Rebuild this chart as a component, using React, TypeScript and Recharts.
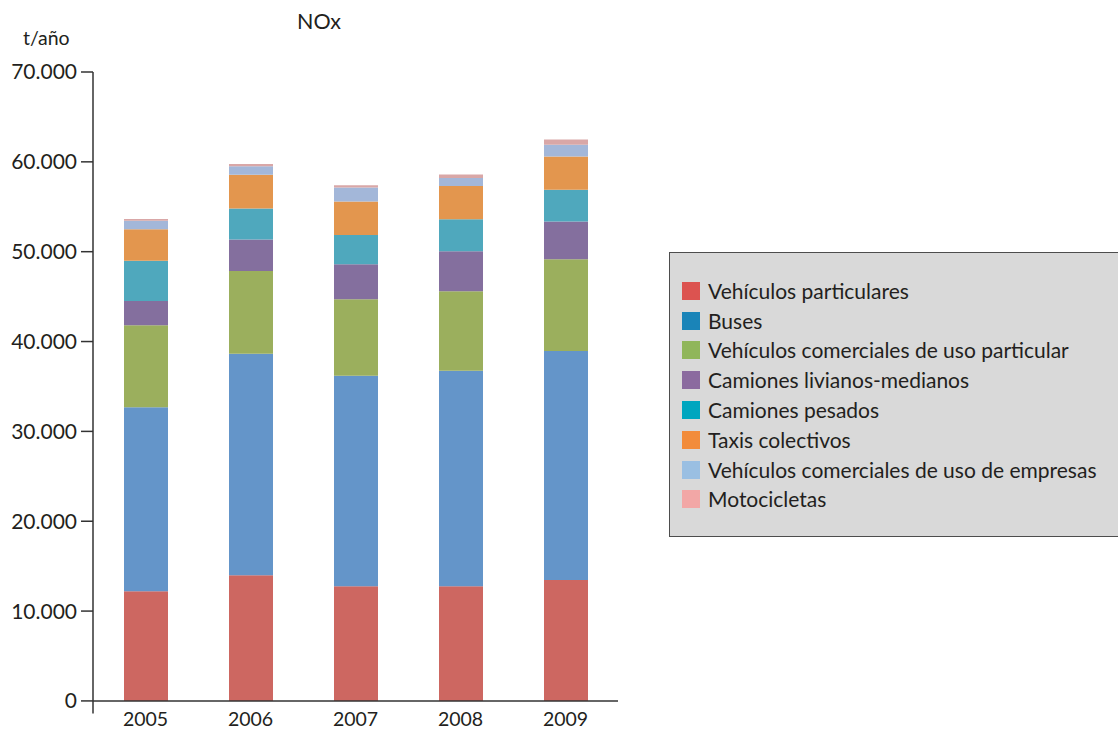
import React from 'react';
import { BarChart, Bar, XAxis, YAxis, ReferenceLine } from 'recharts';

// NOx emissions by vehicle type, t/año
const years = ['2005', '2006', '2007', '2008', '2009'];
const particulares = [12200, 14000, 12750, 12750, 13450];
const buses = [20500, 24650, 23450, 24000, 25500];
const comercialesParticular = [9100, 9200, 8500, 8850, 10200];
const livianosMedianos = [2700, 3500, 3900, 4450, 4200];
const pesados = [4500, 3450, 3250, 3550, 3550];
const taxis = [3500, 3750, 3750, 3700, 3700];
const comercialesEmpresas = [950, 950, 1550, 900, 1300];
const motocicletas = [200, 250, 250, 400, 600];
const yTicks = [0, 10000, 20000, 30000, 40000, 50000, 60000, 70000];

const series = [
  { key: 'particulares', name: 'Vehículos particulares', values: particulares, fill: '#cd6761', swatch: '#dc5350' },
  { key: 'buses', name: 'Buses', values: buses, fill: '#6495c9', swatch: '#1a84b8' },
  { key: 'comercialesParticular', name: 'Vehículos comerciales de uso particular', values: comercialesParticular, fill: '#9baf5d', swatch: '#90b65a' },
  { key: 'livianosMedianos', name: 'Camiones livianos-medianos', values: livianosMedianos, fill: '#846f9e', swatch: '#8b6b9f' },
  { key: 'pesados', name: 'Camiones pesados', values: pesados, fill: '#4fa8bd', swatch: '#00a6bf' },
  { key: 'taxis', name: 'Taxis colectivos', values: taxis, fill: '#e3964e', swatch: '#f28c3b' },
  { key: 'comercialesEmpresas', name: 'Vehículos comerciales de uso de empresas', values: comercialesEmpresas, fill: '#a3b7d9', swatch: '#9abfe2' },
  { key: 'motocicletas', name: 'Motocicletas', values: motocicletas, fill: '#d9a7a7', swatch: '#f2a7a6' },
];

const data = years.map((year, i) => {
  const row: Record<string, string | number> = { year };
  series.forEach((s) => {
    row[s.key] = s.values[i];
  });
  return row;
});

const FONT = 'Lato, "Open Sans", sans-serif';
const INK = '#231f20';

const formatThousands = (v: number) => v.toLocaleString('de-DE');

// Year label sitting just under the extended vertical axis
function YearTick(props: any) {
  const { x, y, payload } = props;
  return (
    <text x={x} y={y + 12.5} textAnchor="middle" fill={INK} fontSize={19.5} fontFamily={FONT}>
      {payload.value}
    </text>
  );
}

function LegendBox() {
  return (
    <div
      style={{
        position: 'absolute',
        left: 669,
        top: 252,
        width: 470,
        height: 285,
        background: '#d9d9d9',
        border: '1.5px solid #4d4d4d',
        boxSizing: 'border-box',
        paddingTop: 23,
        paddingLeft: 12,
        fontFamily: FONT,
        fontSize: 21,
        color: INK,
      }}
    >
      {series.map((s) => (
        <div key={s.key} style={{ display: 'flex', alignItems: 'center', height: 29.8 }}>
          <span style={{ width: 18, height: 18, background: s.swatch, display: 'inline-block', marginRight: 8, flex: 'none' }} />
          <span style={{ whiteSpace: 'nowrap', lineHeight: '24px' }}>{s.name}</span>
        </div>
      ))}
    </div>
  );
}

export default function App() {
  return (
    <div style={{ position: 'absolute', left: 0, top: 0, width: 1118, height: 731, background: '#fff', overflow: 'hidden' }}>
      <div style={{ position: 'absolute', left: 297, top: 8, fontFamily: FONT, fontSize: 21.5, color: INK }}>NOx</div>
      <div style={{ position: 'absolute', left: 23, top: 26, fontFamily: FONT, fontSize: 19.5, color: INK }}>t/año</div>
      <BarChart
        width={1118}
        height={731}
        data={data}
        margin={{ top: 72, right: 500, left: 0, bottom: 0 }}
        barSize={44}
      >
        <XAxis
          dataKey="year"
          axisLine={false}
          tickLine={false}
          tickSize={0}
          tickMargin={0}
          height={17.5}
          tick={<YearTick />}
        />
        <YAxis
          width={93}
          domain={[-1400, 70000]}
          ticks={yTicks}
          interval={0}
          allowDataOverflow
          tickFormatter={formatThousands}
          axisLine={{ stroke: '#333', strokeWidth: 1.5 }}
          tickLine={{ stroke: '#333', strokeWidth: 1.5 }}
          tickSize={12}
          tickMargin={4}
          tick={{ fill: INK, fontSize: 21, fontFamily: FONT }}
        />
        <ReferenceLine y={0} stroke="#333" strokeWidth={1.5} />
        {series.map((s) => (
          <Bar key={s.key} dataKey={s.key} name={s.name} stackId="nox" fill={s.fill} isAnimationActive={false} />
        ))}
      </BarChart>
      <LegendBox />
    </div>
  );
}
